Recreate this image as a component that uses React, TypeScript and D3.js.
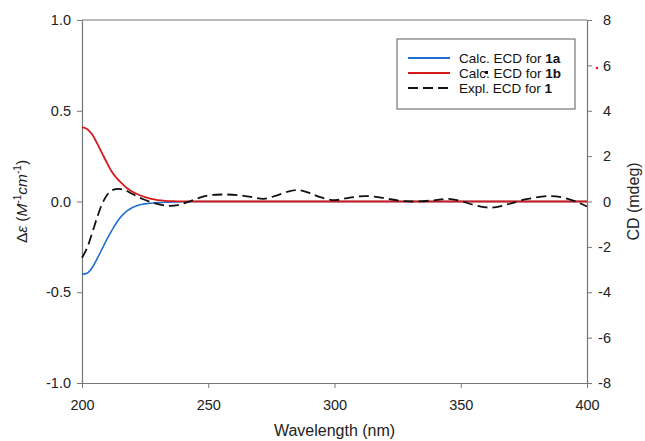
import { useEffect, useRef } from 'react'
import * as d3 from 'd3'

// calculated ECD curves (delta epsilon)
const calcWl = [200, 202, 204, 206, 208, 210, 212, 214, 216, 218, 220, 222, 224, 226, 228, 230, 233, 236, 240, 246, 300, 350, 400]
const calc1a = [-0.40, -0.395, -0.365, -0.315, -0.26, -0.205, -0.155, -0.11, -0.075, -0.05, -0.033, -0.022, -0.015, -0.011, -0.008, -0.006, -0.004, -0.003, -0.001, 0, 0, 0, 0]
const calc1b = [0.41, 0.40, 0.37, 0.32, 0.265, 0.21, 0.16, 0.125, 0.097, 0.072, 0.054, 0.04, 0.029, 0.02, 0.013, 0.008, 0.004, 0.002, 0.0005, 0, 0, 0, 0]

// experimental CD (mdeg)
const expWl = [200, 202, 204, 206, 208, 210, 212, 214.5, 217, 220, 224, 229, 234, 238, 243, 249, 256, 263, 268, 272, 277, 282, 286, 290, 294, 300, 306, 312, 319, 326, 332, 340, 345, 350, 355, 360, 364, 369, 376, 385, 391, 396, 400]
const expCD = [-2.48, -2.05, -1.4, -0.7, -0.1, 0.3, 0.5, 0.56, 0.5, 0.33, 0.11, -0.08, -0.19, -0.16, 0.02, 0.25, 0.31, 0.27, 0.18, 0.12, 0.26, 0.45, 0.5, 0.38, 0.2, 0.06, 0.17, 0.24, 0.16, 0.03, 0.0, 0.06, 0.12, 0.02, -0.15, -0.26, -0.25, -0.11, 0.1, 0.24, 0.16, -0.02, -0.22]

const xTicks = [200, 250, 300, 350, 400]
const leftTicks = [-1.0, -0.5, 0.0, 0.5, 1.0]
const rightTicks = [-8, -6, -4, -2, 0, 2, 4, 6, 8]

const legendItems = [
  { label: 'Calc. ECD for ', bold: '1a', color: '#1f6fd1', dash: null },
  { label: 'Calc. ECD for ', bold: '1b', color: '#d41a1a', dash: null },
  { label: 'Expl. ECD for ', bold: '1', color: '#111', dash: '10,5' },
]

export default function App() {
  const ref = useRef<SVGSVGElement | null>(null)

  useEffect(() => {
    const svg = d3.select(ref.current)
    svg.selectAll('*').remove()

    const left = 82, right = 587, top = 20, bottom = 383
    const font = '"Liberation Sans", Arial, sans-serif'
    const axisColor = '#777'
    const hyphen = (f: (n: number) => string) => (d: any) => f(d).replace('−', '-')

    const x = d3.scaleLinear().domain([200, 400]).range([left, right])
    const y = d3.scaleLinear().domain([-1, 1]).range([bottom, top])
    const y2 = d3.scaleLinear().domain([-8, 8]).range([bottom, top])

    const styleAxis = (g: any) => {
      g.select('.domain').attr('stroke', axisColor).attr('stroke-width', 1.2)
      g.selectAll('.tick line').attr('stroke', axisColor)
      g.selectAll('.tick text')
        .attr('fill', '#222')
        .style('font-family', font)
        .style('font-size', '14.5px')
    }

    // top border
    svg.append('line')
      .attr('x1', left).attr('x2', right)
      .attr('y1', top).attr('y2', top)
      .attr('stroke', axisColor).attr('stroke-width', 1.2)

    svg.append('g')
      .attr('transform', `translate(0,${bottom})`)
      .call(d3.axisBottom(x).tickValues(xTicks).tickSize(5).tickPadding(12).tickSizeOuter(0))
      .call(styleAxis)

    svg.append('g')
      .attr('transform', `translate(${left},0)`)
      .call(d3.axisLeft(y).tickValues(leftTicks).tickFormat(hyphen(d3.format('.1f'))).tickSize(5).tickPadding(6).tickSizeOuter(0))
      .call(styleAxis)

    const r = svg.append('g')
      .attr('transform', `translate(${right},0)`)
      .call(d3.axisRight(y2).tickValues(rightTicks).tickFormat(hyphen(d3.format('d'))).tickSize(5).tickPadding(6).tickSizeOuter(0))
      .call(styleAxis)
    r.selectAll('.tick text').attr('text-anchor', 'end').attr('x', 24)

    const line = d3.line<[number, number]>()
      .x(d => x(d[0]))
      .curve(d3.curveCatmullRom.alpha(0.5))

    svg.append('path')
      .datum(calcWl.map((w, i) => [w, calc1a[i]] as [number, number]))
      .attr('d', line.y(d => y(d[1])))
      .attr('fill', 'none').attr('stroke', '#1f6fd1').attr('stroke-width', 1.6)

    svg.append('path')
      .datum(calcWl.map((w, i) => [w, calc1b[i]] as [number, number]))
      .attr('d', line.y(d => y(d[1])))
      .attr('fill', 'none').attr('stroke', '#d41a1a').attr('stroke-width', 1.8)

    svg.append('path')
      .datum(expWl.map((w, i) => [w, expCD[i]] as [number, number]))
      .attr('d', line.y(d => y2(d[1])))
      .attr('fill', 'none').attr('stroke', '#111').attr('stroke-width', 1.8)
      .attr('stroke-dasharray', '10,5')

    // legend
    const lg = svg.append('g')
    lg.append('rect')
      .attr('x', 397).attr('y', 39).attr('width', 178).attr('height', 70)
      .attr('fill', '#fff').attr('stroke', axisColor).attr('stroke-width', 1.2)
    legendItems.forEach((it, i) => {
      const ly = 58 + i * 15
      lg.append('line')
        .attr('x1', 408).attr('x2', 450).attr('y1', ly).attr('y2', ly)
        .attr('stroke', it.color).attr('stroke-width', 1.8)
        .attr('stroke-dasharray', it.dash)
      const t = lg.append('text')
        .attr('x', 459).attr('y', ly + 5)
        .attr('fill', '#111')
        .style('font-family', font).style('font-size', '13.5px')
      t.append('tspan').text(it.label)
      t.append('tspan').attr('font-weight', 'bold').text(it.bold)
    })
    // small artefacts in the original picture
    lg.append('rect').attr('x', 485).attr('y', 71).attr('width', 3).attr('height', 3).attr('fill', '#111')
    svg.append('circle').attr('cx', 597).attr('cy', 68).attr('r', 1.3).attr('fill', '#e02020')

    // axis titles
    svg.append('text')
      .attr('x', (left + right) / 2).attr('y', 436)
      .attr('text-anchor', 'middle').attr('fill', '#222')
      .style('font-family', font).style('font-size', '16px')
      .text('Wavelength (nm)')

    const lt = svg.append('text')
      .attr('transform', `translate(27,${(top + bottom) / 2}) rotate(-90)`)
      .attr('text-anchor', 'middle').attr('fill', '#222')
      .style('font-family', font).style('font-size', '15.5px')
    lt.append('tspan').text('Δ')
    lt.append('tspan').attr('font-style', 'italic').text('ε')
    lt.append('tspan').text(' (')
    lt.append('tspan').attr('font-style', 'italic').text('M')
    lt.append('tspan').attr('font-size', '10px').attr('dy', -6).text('-1')
    lt.append('tspan').attr('font-style', 'italic').attr('dy', 6).text('cm')
    lt.append('tspan').attr('font-size', '10px').attr('dy', -6).text('-1')
    lt.append('tspan').attr('dy', 6).text(')')

    svg.append('text')
      .attr('transform', `translate(639,${(top + bottom) / 2}) rotate(-90)`)
      .attr('text-anchor', 'middle').attr('fill', '#222')
      .style('font-family', font).style('font-size', '16px')
      .text('CD (mdeg)')
  }, [])

  return (
    <svg
      ref={ref}
      width={645}
      height={441}
      style={{ position: 'absolute', left: 0, top: 0, background: '#fff' }}
    />
  )
}
